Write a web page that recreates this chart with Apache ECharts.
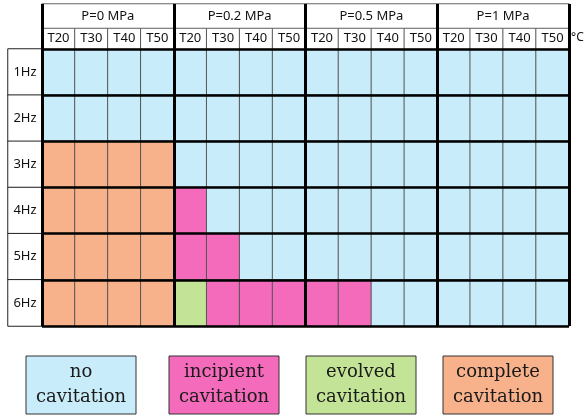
<!DOCTYPE html>
<html><head><meta charset="utf-8">
<script src="https://cdn.jsdelivr.net/npm/echarts@6/dist/echarts.min.js"></script>
<style>html,body{margin:0;padding:0;background:#fff}#c{width:588px;height:416px}</style>
</head><body><div id="c"></div>
<script>
const pressures = ['P=0 MPa', 'P=0.2 MPa', 'P=0.5 MPa', 'P=1 MPa'];
const temps = ['T20', 'T30', 'T40', 'T50'];
const tempUnit = '°C';
const freqs = ['1Hz', '2Hz', '3Hz', '4Hz', '5Hz', '6Hz'];
const states = ['no\ncavitation', 'incipient\ncavitation', 'evolved\ncavitation', 'complete\ncavitation'];
const stateColors = ['#c9ecfa', '#f36bba', '#c3e397', '#f7b28b'];
// status per frequency row; 16 columns = 4 pressures x 4 temperatures
// 0 none, 1 incipient, 2 evolved, 3 complete
const status = [
  [0,0,0,0, 0,0,0,0, 0,0,0,0, 0,0,0,0],
  [0,0,0,0, 0,0,0,0, 0,0,0,0, 0,0,0,0],
  [3,3,3,3, 0,0,0,0, 0,0,0,0, 0,0,0,0],
  [3,3,3,3, 1,0,0,0, 0,0,0,0, 0,0,0,0],
  [3,3,3,3, 1,1,0,0, 0,0,0,0, 0,0,0,0],
  [3,3,3,3, 2,1,1,1, 1,1,0,0, 0,0,0,0]
];

const cols = [];
pressures.forEach(p => temps.forEach(t => cols.push(t)));
const cellData = [];
status.forEach((row, r) => row.forEach((v, c) => cellData.push([c, r, v])));
const tempHeader = cols.map((t, i) => [i, 0, 0]);
const pressHeader = pressures.map((p, i) => [i, 0, 0]);
const rowHeader = freqs.map((f, i) => [0, i, 0]);

const L = 42, W = 527;
const hidden = {axisLine:{show:false}, axisTick:{show:false}, axisLabel:{show:false}, splitLine:{show:false}};
const thickV = {show:true, z:10, axisLine:{show:false}, axisTick:{show:false}, axisLabel:{show:false},
  splitLine:{show:true, interval:0, lineStyle:{color:'#000', width:3}}};
const sansFont = {fontFamily:'Noto Sans', fontSize:13, color:'#111'};

const chart = echarts.init(document.getElementById('c'), null, {renderer:'canvas'});
const legendGraphics = [];
const legX = [26, 169, 306, 443];
states.forEach((s, i) => {
  legendGraphics.push({type:'rect', shape:{x:legX[i], y:356, width:110, height:58},
    style:{fill:stateColors[i], stroke:'#333', lineWidth:1}});
  legendGraphics.push({type:'text', x:legX[i] + 55, y:385,
    style:{text:s, fontFamily:'DejaVu Serif', fontSize:18, lineHeight:25, fill:'#1a1a1a', align:'center', verticalAlign:'middle'}});
});
legendGraphics.push({type:'text', x:571, y:38, style:{text:tempUnit, fontFamily:'Noto Sans', fontSize:12, fill:'#111', verticalAlign:'middle'}});

chart.setOption({
  animation:false,
  grid:[
    {left:L, top:49, width:W, height:277},
    {left:L, top:28, width:W, height:21},
    {left:L, top:4, width:W, height:24},
    {left:8, top:49, width:34, height:277}
  ],
  xAxis:[
    Object.assign({type:'category', gridIndex:0, data:cols}, hidden),
    Object.assign({type:'category', gridIndex:0, data:pressures}, thickV),
    Object.assign({type:'category', gridIndex:1, data:cols}, hidden),
    Object.assign({type:'category', gridIndex:1, data:pressures}, thickV),
    Object.assign({type:'category', gridIndex:2, data:pressures}, thickV),
    Object.assign({type:'category', gridIndex:3, data:['f']}, hidden)
  ],
  yAxis:[
    {type:'category', gridIndex:0, data:freqs, inverse:true, z:10, axisLine:{show:false}, axisTick:{show:false}, axisLabel:{show:false},
      splitLine:{show:true, interval:0, lineStyle:{color:'#000', width:2.5}}},
    Object.assign({type:'category', gridIndex:1, data:['t']}, hidden),
    Object.assign({type:'category', gridIndex:2, data:['p']}, hidden),
    Object.assign({type:'category', gridIndex:3, data:freqs, inverse:true}, hidden)
  ],
  visualMap:{type:'piecewise', show:false, seriesIndex:0, dimension:2,
    pieces:stateColors.map((c, i) => ({value:i, color:c}))},
  graphic:legendGraphics,
  series:[
    {type:'heatmap', xAxisIndex:0, yAxisIndex:0, data:cellData,
      itemStyle:{borderColor:'#555', borderWidth:1}, emphasis:{disabled:true}},
    {type:'heatmap', xAxisIndex:2, yAxisIndex:1, data:tempHeader,
      itemStyle:{color:'#fff', borderColor:'#555', borderWidth:1}, emphasis:{disabled:true},
      label:Object.assign({show:true, formatter:p => cols[p.value[0]]}, sansFont)},
    {type:'heatmap', xAxisIndex:4, yAxisIndex:2, data:pressHeader,
      itemStyle:{color:'#fff', borderColor:'#666', borderWidth:1}, emphasis:{disabled:true},
      label:Object.assign({show:true, formatter:p => pressures[p.value[0]]}, sansFont)},
    {type:'heatmap', xAxisIndex:5, yAxisIndex:3, data:rowHeader,
      itemStyle:{color:'#fff', borderColor:'#222', borderWidth:1}, emphasis:{disabled:true},
      label:Object.assign({show:true, formatter:p => freqs[p.value[1]]}, sansFont)}
  ]
});
</script></body></html>
